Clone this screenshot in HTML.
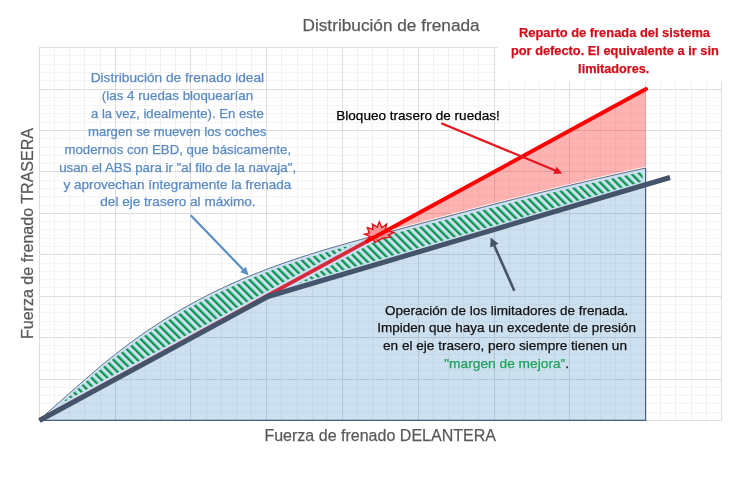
<!DOCTYPE html><html><head><meta charset="utf-8"><style>html,body{margin:0;padding:0;background:#fff;}svg{display:block;will-change:transform;}text{font-family:"Liberation Sans",sans-serif;}</style></head><body>
<svg width="731" height="484" viewBox="0 0 731 484">
<defs>
<pattern id="hatch" patternUnits="userSpaceOnUse" width="5.657" height="5.657" patternTransform="rotate(-45)"><rect x="0" y="0" width="2.35" height="5.657" fill="#0c954c"/></pattern>
</defs>
<rect width="731" height="484" fill="#fff"/>
<line x1="54.50" y1="47.5" x2="54.50" y2="420.3" stroke="#f1f1f1" stroke-width="1"/>
<line x1="69.50" y1="47.5" x2="69.50" y2="420.3" stroke="#f1f1f1" stroke-width="1"/>
<line x1="84.50" y1="47.5" x2="84.50" y2="420.3" stroke="#f1f1f1" stroke-width="1"/>
<line x1="100.50" y1="47.5" x2="100.50" y2="420.3" stroke="#f1f1f1" stroke-width="1"/>
<line x1="130.50" y1="47.5" x2="130.50" y2="420.3" stroke="#f1f1f1" stroke-width="1"/>
<line x1="145.50" y1="47.5" x2="145.50" y2="420.3" stroke="#f1f1f1" stroke-width="1"/>
<line x1="160.50" y1="47.5" x2="160.50" y2="420.3" stroke="#f1f1f1" stroke-width="1"/>
<line x1="175.50" y1="47.5" x2="175.50" y2="420.3" stroke="#f1f1f1" stroke-width="1"/>
<line x1="206.50" y1="47.5" x2="206.50" y2="420.3" stroke="#f1f1f1" stroke-width="1"/>
<line x1="221.50" y1="47.5" x2="221.50" y2="420.3" stroke="#f1f1f1" stroke-width="1"/>
<line x1="236.50" y1="47.5" x2="236.50" y2="420.3" stroke="#f1f1f1" stroke-width="1"/>
<line x1="251.50" y1="47.5" x2="251.50" y2="420.3" stroke="#f1f1f1" stroke-width="1"/>
<line x1="281.50" y1="47.5" x2="281.50" y2="420.3" stroke="#f1f1f1" stroke-width="1"/>
<line x1="297.50" y1="47.5" x2="297.50" y2="420.3" stroke="#f1f1f1" stroke-width="1"/>
<line x1="312.50" y1="47.5" x2="312.50" y2="420.3" stroke="#f1f1f1" stroke-width="1"/>
<line x1="327.50" y1="47.5" x2="327.50" y2="420.3" stroke="#f1f1f1" stroke-width="1"/>
<line x1="357.50" y1="47.5" x2="357.50" y2="420.3" stroke="#f1f1f1" stroke-width="1"/>
<line x1="372.50" y1="47.5" x2="372.50" y2="420.3" stroke="#f1f1f1" stroke-width="1"/>
<line x1="387.50" y1="47.5" x2="387.50" y2="420.3" stroke="#f1f1f1" stroke-width="1"/>
<line x1="403.50" y1="47.5" x2="403.50" y2="420.3" stroke="#f1f1f1" stroke-width="1"/>
<line x1="433.50" y1="47.5" x2="433.50" y2="420.3" stroke="#f1f1f1" stroke-width="1"/>
<line x1="448.50" y1="47.5" x2="448.50" y2="420.3" stroke="#f1f1f1" stroke-width="1"/>
<line x1="463.50" y1="47.5" x2="463.50" y2="420.3" stroke="#f1f1f1" stroke-width="1"/>
<line x1="478.50" y1="47.5" x2="478.50" y2="420.3" stroke="#f1f1f1" stroke-width="1"/>
<line x1="509.50" y1="47.5" x2="509.50" y2="420.3" stroke="#f1f1f1" stroke-width="1"/>
<line x1="524.50" y1="47.5" x2="524.50" y2="420.3" stroke="#f1f1f1" stroke-width="1"/>
<line x1="539.50" y1="47.5" x2="539.50" y2="420.3" stroke="#f1f1f1" stroke-width="1"/>
<line x1="554.50" y1="47.5" x2="554.50" y2="420.3" stroke="#f1f1f1" stroke-width="1"/>
<line x1="584.50" y1="47.5" x2="584.50" y2="420.3" stroke="#f1f1f1" stroke-width="1"/>
<line x1="600.50" y1="47.5" x2="600.50" y2="420.3" stroke="#f1f1f1" stroke-width="1"/>
<line x1="615.50" y1="47.5" x2="615.50" y2="420.3" stroke="#f1f1f1" stroke-width="1"/>
<line x1="630.50" y1="47.5" x2="630.50" y2="420.3" stroke="#f1f1f1" stroke-width="1"/>
<line x1="660.50" y1="47.5" x2="660.50" y2="420.3" stroke="#f1f1f1" stroke-width="1"/>
<line x1="675.50" y1="47.5" x2="675.50" y2="420.3" stroke="#f1f1f1" stroke-width="1"/>
<line x1="691.50" y1="47.5" x2="691.50" y2="420.3" stroke="#f1f1f1" stroke-width="1"/>
<line x1="706.50" y1="47.5" x2="706.50" y2="420.3" stroke="#f1f1f1" stroke-width="1"/>
<line x1="39.0" y1="55.50" x2="721.0" y2="55.50" stroke="#f5f5f5" stroke-width="1"/>
<line x1="39.0" y1="64.50" x2="721.0" y2="64.50" stroke="#f5f5f5" stroke-width="1"/>
<line x1="39.0" y1="72.50" x2="721.0" y2="72.50" stroke="#f5f5f5" stroke-width="1"/>
<line x1="39.0" y1="80.50" x2="721.0" y2="80.50" stroke="#f5f5f5" stroke-width="1"/>
<line x1="39.0" y1="97.50" x2="721.0" y2="97.50" stroke="#f5f5f5" stroke-width="1"/>
<line x1="39.0" y1="105.50" x2="721.0" y2="105.50" stroke="#f5f5f5" stroke-width="1"/>
<line x1="39.0" y1="113.50" x2="721.0" y2="113.50" stroke="#f5f5f5" stroke-width="1"/>
<line x1="39.0" y1="122.50" x2="721.0" y2="122.50" stroke="#f5f5f5" stroke-width="1"/>
<line x1="39.0" y1="138.50" x2="721.0" y2="138.50" stroke="#f5f5f5" stroke-width="1"/>
<line x1="39.0" y1="147.50" x2="721.0" y2="147.50" stroke="#f5f5f5" stroke-width="1"/>
<line x1="39.0" y1="155.50" x2="721.0" y2="155.50" stroke="#f5f5f5" stroke-width="1"/>
<line x1="39.0" y1="163.50" x2="721.0" y2="163.50" stroke="#f5f5f5" stroke-width="1"/>
<line x1="39.0" y1="180.50" x2="721.0" y2="180.50" stroke="#f5f5f5" stroke-width="1"/>
<line x1="39.0" y1="188.50" x2="721.0" y2="188.50" stroke="#f5f5f5" stroke-width="1"/>
<line x1="39.0" y1="196.50" x2="721.0" y2="196.50" stroke="#f5f5f5" stroke-width="1"/>
<line x1="39.0" y1="205.50" x2="721.0" y2="205.50" stroke="#f5f5f5" stroke-width="1"/>
<line x1="39.0" y1="221.50" x2="721.0" y2="221.50" stroke="#f5f5f5" stroke-width="1"/>
<line x1="39.0" y1="229.50" x2="721.0" y2="229.50" stroke="#f5f5f5" stroke-width="1"/>
<line x1="39.0" y1="238.50" x2="721.0" y2="238.50" stroke="#f5f5f5" stroke-width="1"/>
<line x1="39.0" y1="246.50" x2="721.0" y2="246.50" stroke="#f5f5f5" stroke-width="1"/>
<line x1="39.0" y1="263.50" x2="721.0" y2="263.50" stroke="#f5f5f5" stroke-width="1"/>
<line x1="39.0" y1="271.50" x2="721.0" y2="271.50" stroke="#f5f5f5" stroke-width="1"/>
<line x1="39.0" y1="279.50" x2="721.0" y2="279.50" stroke="#f5f5f5" stroke-width="1"/>
<line x1="39.0" y1="287.50" x2="721.0" y2="287.50" stroke="#f5f5f5" stroke-width="1"/>
<line x1="39.0" y1="304.50" x2="721.0" y2="304.50" stroke="#f5f5f5" stroke-width="1"/>
<line x1="39.0" y1="312.50" x2="721.0" y2="312.50" stroke="#f5f5f5" stroke-width="1"/>
<line x1="39.0" y1="321.50" x2="721.0" y2="321.50" stroke="#f5f5f5" stroke-width="1"/>
<line x1="39.0" y1="329.50" x2="721.0" y2="329.50" stroke="#f5f5f5" stroke-width="1"/>
<line x1="39.0" y1="345.50" x2="721.0" y2="345.50" stroke="#f5f5f5" stroke-width="1"/>
<line x1="39.0" y1="354.50" x2="721.0" y2="354.50" stroke="#f5f5f5" stroke-width="1"/>
<line x1="39.0" y1="362.50" x2="721.0" y2="362.50" stroke="#f5f5f5" stroke-width="1"/>
<line x1="39.0" y1="370.50" x2="721.0" y2="370.50" stroke="#f5f5f5" stroke-width="1"/>
<line x1="39.0" y1="387.50" x2="721.0" y2="387.50" stroke="#f5f5f5" stroke-width="1"/>
<line x1="39.0" y1="395.50" x2="721.0" y2="395.50" stroke="#f5f5f5" stroke-width="1"/>
<line x1="39.0" y1="403.50" x2="721.0" y2="403.50" stroke="#f5f5f5" stroke-width="1"/>
<line x1="39.0" y1="412.50" x2="721.0" y2="412.50" stroke="#f5f5f5" stroke-width="1"/>
<line x1="39.50" y1="47.5" x2="39.50" y2="420.3" stroke="#dddddd" stroke-width="1"/>
<line x1="115.50" y1="47.5" x2="115.50" y2="420.3" stroke="#dddddd" stroke-width="1"/>
<line x1="190.50" y1="47.5" x2="190.50" y2="420.3" stroke="#dddddd" stroke-width="1"/>
<line x1="266.50" y1="47.5" x2="266.50" y2="420.3" stroke="#dddddd" stroke-width="1"/>
<line x1="342.50" y1="47.5" x2="342.50" y2="420.3" stroke="#dddddd" stroke-width="1"/>
<line x1="418.50" y1="47.5" x2="418.50" y2="420.3" stroke="#dddddd" stroke-width="1"/>
<line x1="494.50" y1="47.5" x2="494.50" y2="420.3" stroke="#dddddd" stroke-width="1"/>
<line x1="569.50" y1="47.5" x2="569.50" y2="420.3" stroke="#dddddd" stroke-width="1"/>
<line x1="645.50" y1="47.5" x2="645.50" y2="420.3" stroke="#dddddd" stroke-width="1"/>
<line x1="721.50" y1="47.5" x2="721.50" y2="420.3" stroke="#dddddd" stroke-width="1"/>
<line x1="39.0" y1="47.50" x2="721.0" y2="47.50" stroke="#dddddd" stroke-width="1"/>
<line x1="39.0" y1="89.50" x2="721.0" y2="89.50" stroke="#dddddd" stroke-width="1"/>
<line x1="39.0" y1="130.50" x2="721.0" y2="130.50" stroke="#dddddd" stroke-width="1"/>
<line x1="39.0" y1="171.50" x2="721.0" y2="171.50" stroke="#dddddd" stroke-width="1"/>
<line x1="39.0" y1="213.50" x2="721.0" y2="213.50" stroke="#dddddd" stroke-width="1"/>
<line x1="39.0" y1="254.50" x2="721.0" y2="254.50" stroke="#dddddd" stroke-width="1"/>
<line x1="39.0" y1="296.50" x2="721.0" y2="296.50" stroke="#dddddd" stroke-width="1"/>
<line x1="39.0" y1="337.50" x2="721.0" y2="337.50" stroke="#dddddd" stroke-width="1"/>
<line x1="39.0" y1="379.50" x2="721.0" y2="379.50" stroke="#dddddd" stroke-width="1"/>
<line x1="39.0" y1="420.50" x2="721.0" y2="420.50" stroke="#dddddd" stroke-width="1"/>
<line x1="39.5" y1="420.0" x2="367.0" y2="241.3" stroke="#d42a3c" stroke-width="3.2"/>
<polygon points="39.5,420.3 44.6,415.2 49.7,410.7 54.8,406.2 59.9,401.7 65.0,397.2 70.1,392.7 75.2,388.2 80.2,383.7 85.3,379.3 90.4,374.9 95.5,370.5 100.6,366.2 105.7,362.0 110.8,357.9 115.9,353.8 121.0,349.9 126.1,346.0 131.2,342.2 136.3,338.5 141.4,334.9 146.5,331.4 151.6,328.0 156.6,324.6 161.7,321.3 166.8,318.1 171.9,315.0 177.0,312.0 182.1,309.0 187.2,306.1 192.3,303.3 197.4,300.5 202.5,297.9 207.6,295.2 212.7,292.7 217.8,290.2 222.9,287.8 228.0,285.4 233.0,283.1 238.1,280.9 243.2,278.7 248.3,276.6 253.4,274.5 258.5,272.5 263.6,270.5 268.7,268.5 273.8,266.6 278.9,264.8 284.0,263.0 289.1,261.2 294.2,259.5 299.3,257.8 304.4,256.1 309.4,254.5 314.5,252.9 319.6,251.3 324.7,249.8 329.8,248.3 334.9,246.8 340.0,245.3 345.1,243.9 350.2,242.4 355.3,241.0 360.4,239.6 365.5,238.2 370.6,236.9 375.7,235.5 380.7,234.1 385.8,232.8 390.9,231.4 396.0,230.1 401.1,228.7 406.2,227.4 411.3,226.0 416.4,224.7 421.5,223.3 426.6,222.0 431.7,220.6 436.8,219.3 441.9,217.9 447.0,216.6 452.1,215.2 457.1,213.9 462.2,212.6 467.3,211.2 472.4,209.9 477.5,208.6 482.6,207.3 487.7,206.0 492.8,204.6 497.9,203.3 503.0,202.0 508.1,200.7 513.2,199.4 518.3,198.1 523.4,196.9 528.5,195.6 533.5,194.3 538.6,193.0 543.7,191.8 548.8,190.5 553.9,189.3 559.0,188.0 564.1,186.8 569.2,185.6 574.3,184.3 579.4,183.1 584.5,181.9 589.6,180.7 594.7,179.5 599.8,178.3 604.9,177.2 609.9,176.0 615.0,174.8 620.1,173.7 625.2,172.6 630.3,171.4 635.4,170.3 640.5,169.2 645.6,168.1 645.6,420.3 39.5,420.3" fill="rgb(40,120,190)" fill-opacity="0.23"/>
<line x1="39.5" y1="420.0" x2="367.0" y2="241.3" stroke="#d42a3c" stroke-width="3.2"/>
<clipPath id="hclip"><polygon points="40.0,419.2 43.8,415.9 47.6,412.5 51.4,409.2 55.2,405.8 59.0,402.5 62.9,399.1 66.7,395.7 70.5,392.3 74.3,389.0 78.1,385.6 81.9,382.3 85.7,379.0 89.5,375.7 93.3,372.4 97.1,369.2 100.9,366.0 104.7,362.8 108.6,359.7 112.4,356.6 116.2,353.6 120.0,350.7 123.8,347.7 127.6,344.9 131.4,342.1 135.2,339.3 139.0,336.6 142.8,333.9 146.6,331.3 150.5,328.7 154.3,326.2 158.1,323.7 161.9,321.3 165.7,318.9 169.5,316.5 173.3,314.2 177.1,311.9 180.9,309.7 184.7,307.5 188.5,305.4 192.4,303.3 196.2,301.2 200.0,299.2 203.8,297.2 207.6,295.2 211.4,293.3 215.2,291.5 219.0,289.6 222.8,287.8 226.6,286.0 230.4,284.3 234.2,282.6 238.1,280.9 241.9,279.3 245.7,277.7 249.5,276.1 253.3,274.5 257.1,273.0 260.9,271.5 264.7,270.0 268.5,268.6 272.3,267.2 276.1,265.8 280.0,264.4 283.8,263.1 287.6,261.7 291.4,260.4 295.2,259.1 299.0,257.9 302.8,256.6 306.6,255.4 310.4,254.2 314.2,253.0 318.0,251.8 321.9,250.7 325.7,249.5 329.5,248.4 333.3,247.3 337.1,246.2 340.9,245.1 344.7,244.0 348.5,242.9 352.3,241.8 356.1,240.8 359.9,239.7 363.7,238.7 367.6,237.7 371.4,236.6 375.2,235.6 379.0,234.6 382.8,233.6 386.6,232.6 390.4,231.5 394.2,230.5 398.0,229.5 401.8,228.5 405.6,227.5 409.5,226.5 413.3,225.5 417.1,224.5 420.9,223.5 424.7,222.5 428.5,221.4 432.3,220.4 436.1,219.4 439.9,218.4 443.7,217.4 447.5,216.4 451.4,215.4 455.2,214.4 459.0,213.4 462.8,212.4 466.6,211.4 470.4,210.4 474.2,209.5 478.0,208.5 481.8,207.5 485.6,206.5 489.4,205.5 493.2,204.5 497.1,203.6 500.9,202.6 504.7,201.6 508.5,200.6 512.3,199.7 516.1,198.7 519.9,197.7 523.7,196.8 527.5,195.8 531.3,194.9 535.1,193.9 539.0,193.0 542.8,192.0 546.6,191.1 550.4,190.1 554.2,189.2 558.0,188.3 561.8,187.4 565.6,186.4 569.4,185.5 573.2,184.6 577.0,183.7 580.9,182.8 584.7,181.9 588.5,181.0 592.3,180.1 596.1,179.2 599.9,178.3 603.7,177.4 607.5,176.6 611.3,175.7 615.1,174.8 618.9,174.0 622.7,173.1 626.6,172.3 630.4,171.4 634.2,170.6 638.0,169.7 641.8,168.9 645.6,168.1 645.6,184.7 641.8,185.9 638.0,187.0 634.2,188.1 630.4,189.2 626.6,190.4 622.7,191.5 618.9,192.6 615.1,193.7 611.3,194.9 607.5,196.0 603.7,197.1 599.9,198.3 596.1,199.4 592.3,200.5 588.5,201.6 584.7,202.8 580.9,203.9 577.0,205.0 573.2,206.1 569.4,207.3 565.6,208.4 561.8,209.5 558.0,210.7 554.2,211.8 550.4,212.9 546.6,214.0 542.8,215.2 539.0,216.3 535.1,217.4 531.3,218.5 527.5,219.7 523.7,220.8 519.9,221.9 516.1,223.1 512.3,224.2 508.5,225.3 504.7,226.4 500.9,227.6 497.1,228.7 493.2,229.8 489.4,230.9 485.6,232.1 481.8,233.2 478.0,234.3 474.2,235.5 470.4,236.6 466.6,237.7 462.8,238.8 459.0,240.0 455.2,241.1 451.4,242.2 447.5,243.4 443.7,244.5 439.9,245.6 436.1,246.7 432.3,247.9 428.5,249.0 424.7,250.1 420.9,251.2 417.1,252.4 413.3,253.5 409.5,254.6 405.6,255.8 401.8,256.9 398.0,258.0 394.2,259.1 390.4,260.3 386.6,261.4 382.8,262.5 379.0,263.6 375.2,264.8 371.4,265.9 367.6,267.0 363.7,268.2 359.9,269.3 356.1,270.4 352.3,271.5 348.5,272.7 344.7,273.8 340.9,274.9 337.1,276.0 333.3,277.2 329.5,278.3 325.7,279.4 321.9,280.6 318.0,281.7 314.2,282.8 310.4,283.9 306.6,285.1 302.8,286.2 299.0,287.3 295.2,288.5 291.4,289.6 287.6,290.7 283.8,291.8 280.0,293.0 276.1,294.1 272.3,295.2 268.5,296.3 264.7,298.3 260.9,300.3 257.1,302.4 253.3,304.5 249.5,306.5 245.7,308.6 241.9,310.7 238.1,312.7 234.2,314.8 230.4,316.9 226.6,318.9 222.8,321.0 219.0,323.1 215.2,325.2 211.4,327.2 207.6,329.3 203.8,331.4 200.0,333.4 196.2,335.5 192.4,337.6 188.5,339.6 184.7,341.7 180.9,343.8 177.1,345.8 173.3,347.9 169.5,350.0 165.7,352.0 161.9,354.1 158.1,356.2 154.3,358.2 150.5,360.3 146.6,362.4 142.8,364.4 139.0,366.5 135.2,368.6 131.4,370.6 127.6,372.7 123.8,374.8 120.0,376.8 116.2,378.9 112.4,381.0 108.6,383.0 104.7,385.1 100.9,387.2 97.1,389.2 93.3,391.3 89.5,393.4 85.7,395.4 81.9,397.5 78.1,399.6 74.3,401.6 70.5,403.7 66.7,405.8 62.9,407.8 59.0,409.9 55.2,412.0 51.4,414.0 47.6,416.1 43.8,418.2 40.0,420.2"/></clipPath>
<polygon points="40.0,419.2 43.8,415.9 47.6,412.5 51.4,409.2 55.2,405.8 59.0,402.5 62.9,399.1 66.7,395.7 70.5,392.3 74.3,389.0 78.1,385.6 81.9,382.3 85.7,379.0 89.5,375.7 93.3,372.4 97.1,369.2 100.9,366.0 104.7,362.8 108.6,359.7 112.4,356.6 116.2,353.6 120.0,350.7 123.8,347.7 127.6,344.9 131.4,342.1 135.2,339.3 139.0,336.6 142.8,333.9 146.6,331.3 150.5,328.7 154.3,326.2 158.1,323.7 161.9,321.3 165.7,318.9 169.5,316.5 173.3,314.2 177.1,311.9 180.9,309.7 184.7,307.5 188.5,305.4 192.4,303.3 196.2,301.2 200.0,299.2 203.8,297.2 207.6,295.2 211.4,293.3 215.2,291.5 219.0,289.6 222.8,287.8 226.6,286.0 230.4,284.3 234.2,282.6 238.1,280.9 241.9,279.3 245.7,277.7 249.5,276.1 253.3,274.5 257.1,273.0 260.9,271.5 264.7,270.0 268.5,268.6 272.3,267.2 276.1,265.8 280.0,264.4 283.8,263.1 287.6,261.7 291.4,260.4 295.2,259.1 299.0,257.9 302.8,256.6 306.6,255.4 310.4,254.2 314.2,253.0 318.0,251.8 321.9,250.7 325.7,249.5 329.5,248.4 333.3,247.3 337.1,246.2 340.9,245.1 344.7,244.0 348.5,242.9 352.3,241.8 356.1,240.8 359.9,239.7 363.7,238.7 367.6,237.7 371.4,236.6 375.2,235.6 379.0,234.6 382.8,233.6 386.6,232.6 390.4,231.5 394.2,230.5 398.0,229.5 401.8,228.5 405.6,227.5 409.5,226.5 413.3,225.5 417.1,224.5 420.9,223.5 424.7,222.5 428.5,221.4 432.3,220.4 436.1,219.4 439.9,218.4 443.7,217.4 447.5,216.4 451.4,215.4 455.2,214.4 459.0,213.4 462.8,212.4 466.6,211.4 470.4,210.4 474.2,209.5 478.0,208.5 481.8,207.5 485.6,206.5 489.4,205.5 493.2,204.5 497.1,203.6 500.9,202.6 504.7,201.6 508.5,200.6 512.3,199.7 516.1,198.7 519.9,197.7 523.7,196.8 527.5,195.8 531.3,194.9 535.1,193.9 539.0,193.0 542.8,192.0 546.6,191.1 550.4,190.1 554.2,189.2 558.0,188.3 561.8,187.4 565.6,186.4 569.4,185.5 573.2,184.6 577.0,183.7 580.9,182.8 584.7,181.9 588.5,181.0 592.3,180.1 596.1,179.2 599.9,178.3 603.7,177.4 607.5,176.6 611.3,175.7 615.1,174.8 618.9,174.0 622.7,173.1 626.6,172.3 630.4,171.4 634.2,170.6 638.0,169.7 641.8,168.9 645.6,168.1 645.6,184.7 641.8,185.9 638.0,187.0 634.2,188.1 630.4,189.2 626.6,190.4 622.7,191.5 618.9,192.6 615.1,193.7 611.3,194.9 607.5,196.0 603.7,197.1 599.9,198.3 596.1,199.4 592.3,200.5 588.5,201.6 584.7,202.8 580.9,203.9 577.0,205.0 573.2,206.1 569.4,207.3 565.6,208.4 561.8,209.5 558.0,210.7 554.2,211.8 550.4,212.9 546.6,214.0 542.8,215.2 539.0,216.3 535.1,217.4 531.3,218.5 527.5,219.7 523.7,220.8 519.9,221.9 516.1,223.1 512.3,224.2 508.5,225.3 504.7,226.4 500.9,227.6 497.1,228.7 493.2,229.8 489.4,230.9 485.6,232.1 481.8,233.2 478.0,234.3 474.2,235.5 470.4,236.6 466.6,237.7 462.8,238.8 459.0,240.0 455.2,241.1 451.4,242.2 447.5,243.4 443.7,244.5 439.9,245.6 436.1,246.7 432.3,247.9 428.5,249.0 424.7,250.1 420.9,251.2 417.1,252.4 413.3,253.5 409.5,254.6 405.6,255.8 401.8,256.9 398.0,258.0 394.2,259.1 390.4,260.3 386.6,261.4 382.8,262.5 379.0,263.6 375.2,264.8 371.4,265.9 367.6,267.0 363.7,268.2 359.9,269.3 356.1,270.4 352.3,271.5 348.5,272.7 344.7,273.8 340.9,274.9 337.1,276.0 333.3,277.2 329.5,278.3 325.7,279.4 321.9,280.6 318.0,281.7 314.2,282.8 310.4,283.9 306.6,285.1 302.8,286.2 299.0,287.3 295.2,288.5 291.4,289.6 287.6,290.7 283.8,291.8 280.0,293.0 276.1,294.1 272.3,295.2 268.5,296.3 264.7,298.3 260.9,300.3 257.1,302.4 253.3,304.5 249.5,306.5 245.7,308.6 241.9,310.7 238.1,312.7 234.2,314.8 230.4,316.9 226.6,318.9 222.8,321.0 219.0,323.1 215.2,325.2 211.4,327.2 207.6,329.3 203.8,331.4 200.0,333.4 196.2,335.5 192.4,337.6 188.5,339.6 184.7,341.7 180.9,343.8 177.1,345.8 173.3,347.9 169.5,350.0 165.7,352.0 161.9,354.1 158.1,356.2 154.3,358.2 150.5,360.3 146.6,362.4 142.8,364.4 139.0,366.5 135.2,368.6 131.4,370.6 127.6,372.7 123.8,374.8 120.0,376.8 116.2,378.9 112.4,381.0 108.6,383.0 104.7,385.1 100.9,387.2 97.1,389.2 93.3,391.3 89.5,393.4 85.7,395.4 81.9,397.5 78.1,399.6 74.3,401.6 70.5,403.7 66.7,405.8 62.9,407.8 59.0,409.9 55.2,412.0 51.4,414.0 47.6,416.1 43.8,418.2 40.0,420.2" fill="rgb(203,224,241)"/>
<polygon points="44.0,418.7 47.8,415.4 51.5,412.1 55.3,408.8 59.1,405.5 62.8,402.1 66.6,398.8 70.4,395.5 74.1,392.1 77.9,388.8 81.6,385.5 85.4,382.2 89.2,379.0 92.9,375.7 96.7,372.5 100.5,369.4 104.2,366.2 108.0,363.1 111.8,360.1 115.5,357.1 119.3,354.2 123.1,351.3 126.8,348.5 130.6,345.7 134.4,342.9 138.1,340.2 141.9,337.6 145.6,335.0 149.4,332.4 153.2,329.9 156.9,327.4 160.7,325.0 164.5,322.6 168.2,320.3 172.0,318.0 175.8,315.7 179.5,313.5 183.3,311.3 187.1,309.2 190.8,307.1 194.6,305.0 198.4,303.0 202.1,301.0 205.9,299.1 209.7,297.2 213.4,295.3 217.2,293.5 220.9,291.7 224.7,289.9 228.5,288.2 232.2,286.5 236.0,284.8 239.8,283.2 243.5,281.6 247.3,280.0 251.1,278.4 254.8,276.9 258.6,275.4 262.4,274.0 266.1,272.5 269.9,271.1 273.7,269.7 277.4,268.3 281.2,267.0 284.9,265.6 288.7,264.3 292.5,263.1 296.2,261.8 300.0,260.6 303.8,259.3 307.5,258.1 311.3,256.9 315.1,255.8 318.8,254.6 322.6,253.4 326.4,252.3 330.1,251.2 333.9,250.1 337.7,249.0 341.4,247.9 345.2,246.8 348.9,245.8 352.7,244.7 356.5,243.7 360.2,242.7 364.0,241.6 367.8,240.6 371.5,239.6 375.3,238.6 379.1,237.6 382.8,236.6 386.6,235.6 390.4,234.6 394.1,233.6 397.9,232.6 401.7,231.6 405.4,230.6 409.2,229.6 412.9,228.6 416.7,227.6 420.5,226.6 424.2,225.6 428.0,224.6 431.8,223.6 435.5,222.6 439.3,221.6 443.1,220.6 446.8,219.6 450.6,218.6 454.4,217.6 458.1,216.7 461.9,215.7 465.7,214.7 469.4,213.7 473.2,212.7 476.9,211.7 480.7,210.8 484.5,209.8 488.2,208.8 492.0,207.8 495.8,206.9 499.5,205.9 503.3,205.0 507.1,204.0 510.8,203.0 514.6,202.1 518.4,201.1 522.1,200.2 525.9,199.2 529.7,198.3 533.4,197.3 537.2,196.4 541.0,195.5 544.7,194.5 548.5,193.6 552.2,192.7 556.0,191.8 559.8,190.8 563.5,189.9 567.3,189.0 571.1,188.1 574.8,187.2 578.6,186.3 582.4,185.4 586.1,184.5 589.9,183.6 593.7,182.8 597.4,181.9 601.2,181.0 605.0,180.1 608.7,179.3 612.5,178.4 616.2,177.6 620.0,176.7 623.8,175.9 627.5,175.0 631.3,174.2 635.1,173.4 638.8,172.6 642.6,171.7 642.6,181.5 638.8,182.6 635.1,183.7 631.3,184.9 627.5,186.0 623.8,187.1 620.0,188.2 616.2,189.3 612.5,190.4 608.7,191.5 605.0,192.7 601.2,193.8 597.4,194.9 593.7,196.0 589.9,197.1 586.1,198.2 582.4,199.3 578.6,200.5 574.8,201.6 571.1,202.7 567.3,203.8 563.5,204.9 559.8,206.0 556.0,207.1 552.2,208.3 548.5,209.4 544.7,210.5 541.0,211.6 537.2,212.7 533.4,213.8 529.7,214.9 525.9,216.1 522.1,217.2 518.4,218.3 514.6,219.4 510.8,220.5 507.1,221.6 503.3,222.7 499.5,223.9 495.8,225.0 492.0,226.1 488.2,227.2 484.5,228.3 480.7,229.4 476.9,230.5 473.2,231.7 469.4,232.8 465.7,233.9 461.9,235.0 458.1,236.1 454.4,237.2 450.6,238.3 446.8,239.5 443.1,240.6 439.3,241.7 435.5,242.8 431.8,243.9 428.0,245.0 424.2,246.1 420.5,247.3 416.7,248.4 412.9,249.5 409.2,250.6 405.4,251.7 401.7,252.8 397.9,254.0 394.1,255.1 390.4,256.2 386.6,257.3 382.8,258.4 379.1,259.5 375.3,260.6 371.5,261.8 367.8,262.9 364.0,264.0 360.2,265.1 356.5,266.2 352.7,267.3 348.9,268.4 345.2,269.6 341.4,270.7 337.7,271.8 333.9,272.9 330.1,274.0 326.4,275.1 322.6,276.2 318.8,277.4 315.1,278.5 311.3,279.6 307.5,280.7 303.8,281.8 300.0,282.9 296.2,284.0 292.5,285.2 288.7,286.3 284.9,287.4 281.2,288.5 277.4,289.6 273.7,290.7 269.9,291.8 266.1,293.4 262.4,295.5 258.6,297.5 254.8,299.5 251.1,301.6 247.3,303.6 243.5,305.7 239.8,307.7 236.0,309.8 232.2,311.8 228.5,313.8 224.7,315.9 220.9,317.9 217.2,320.0 213.4,322.0 209.7,324.1 205.9,326.1 202.1,328.2 198.4,330.2 194.6,332.2 190.8,334.3 187.1,336.3 183.3,338.4 179.5,340.4 175.8,342.5 172.0,344.5 168.2,346.5 164.5,348.6 160.7,350.6 156.9,352.7 153.2,354.7 149.4,356.8 145.6,358.8 141.9,360.8 138.1,362.9 134.4,364.9 130.6,367.0 126.8,369.0 123.1,371.1 119.3,373.1 115.5,375.1 111.8,377.2 108.0,379.2 104.2,381.3 100.5,383.3 96.7,385.4 92.9,387.4 89.2,389.4 85.4,391.5 81.6,393.5 77.9,395.6 74.1,397.6 70.4,399.7 66.6,401.7 62.8,403.7 59.1,405.8 55.3,407.8 51.5,409.9 47.8,411.9 44.0,414.0" fill="url(#hatch)"/>
<g clip-path="url(#hclip)"><line x1="39.5" y1="420.0" x2="373.0" y2="238.0" stroke="rgb(203,224,241)" stroke-width="8.2"/></g>
<line x1="39.5" y1="420.0" x2="367.0" y2="241.3" stroke="#d42a3c" stroke-width="3.8"/>
<polyline points="645.6,168.1 645.6,420.3 39.5,420.3" fill="none" stroke="#4a5d78" stroke-width="1.2"/>
<polygon points="367.0,241.3 376.6,236.0 386.2,230.8 395.9,225.5 405.5,220.3 415.1,215.0 424.7,209.8 434.3,204.5 444.0,199.3 453.6,194.0 463.2,188.8 472.8,183.5 482.4,178.3 492.1,173.0 501.7,167.8 511.3,162.5 520.9,157.3 530.6,152.0 540.2,146.8 549.8,141.5 559.4,136.3 569.0,131.0 578.7,125.8 588.3,120.5 597.9,115.3 607.5,110.0 617.1,104.8 626.8,99.5 636.4,94.3 646.0,89.0 646.0,168.0 646.0,168.0 641.3,169.0 636.5,170.1 631.8,171.1 627.1,172.1 622.4,173.2 617.6,174.3 612.9,175.3 608.2,176.4 603.4,177.5 598.7,178.6 594.0,179.7 589.3,180.8 584.5,181.9 579.8,183.0 575.1,184.2 570.3,185.3 565.6,186.4 560.9,187.6 556.2,188.7 551.4,189.9 546.7,191.0 542.0,192.2 537.2,193.4 532.5,194.6 527.8,195.8 523.1,196.9 518.3,198.1 513.6,199.3 508.9,200.5 504.1,201.7 499.4,202.9 494.7,204.2 489.9,205.4 485.2,206.6 480.5,207.8 475.8,209.1 471.0,210.3 466.3,211.5 461.6,212.7 456.8,214.0 452.1,215.2 447.4,216.5 442.7,217.7 437.9,219.0 433.2,220.2 428.5,221.5 423.7,222.7 419.0,224.0 414.3,225.2 409.6,226.5 404.8,227.7 400.1,229.0 395.4,230.2 390.6,231.5 385.9,232.7 381.2,234.0 376.5,235.3 371.7,236.5 367.0,237.8" fill="rgb(255,0,0)" fill-opacity="0.3"/>
<polyline points="39.5,419.3 44.6,414.2 49.7,409.7 54.8,405.2 59.9,400.7 65.0,396.2 70.1,391.7 75.2,387.2 80.2,382.7 85.3,378.3 90.4,373.9 95.5,369.5 100.6,365.2 105.7,361.0 110.8,356.9 115.9,352.8 121.0,348.9 126.1,345.0 131.2,341.2 136.3,337.5 141.4,333.9 146.5,330.4 151.6,327.0 156.6,323.6 161.7,320.3 166.8,317.1 171.9,314.0 177.0,311.0 182.1,308.0 187.2,305.1 192.3,302.3 197.4,299.5 202.5,296.9 207.6,294.2 212.7,291.7 217.8,289.2 222.9,286.8 228.0,284.4 233.0,282.1 238.1,279.9 243.2,277.7 248.3,275.6 253.4,273.5 258.5,271.5 263.6,269.5 268.7,267.5 273.8,265.6 278.9,263.8 284.0,262.0 289.1,260.2 294.2,258.5 299.3,256.8 304.4,255.1 309.4,253.5 314.5,251.9 319.6,250.3 324.7,248.8 329.8,247.3 334.9,245.8 340.0,244.3 345.1,242.9 350.2,241.4 355.3,240.0 360.4,238.6 365.5,237.2 370.6,235.9 375.7,234.5 380.7,233.1 385.8,231.8 390.9,230.4 396.0,229.1 401.1,227.7 406.2,226.4 411.3,225.0 416.4,223.7 421.5,222.3 426.6,221.0 431.7,219.6 436.8,218.3 441.9,216.9 447.0,215.6 452.1,214.2 457.1,212.9 462.2,211.6 467.3,210.2 472.4,208.9 477.5,207.6 482.6,206.3 487.7,205.0 492.8,203.6 497.9,202.3 503.0,201.0 508.1,199.7 513.2,198.4 518.3,197.1 523.4,195.9 528.5,194.6 533.5,193.3 538.6,192.0 543.7,190.8 548.8,189.5 553.9,188.3 559.0,187.0 564.1,185.8 569.2,184.6 574.3,183.3 579.4,182.1 584.5,180.9 589.6,179.7 594.7,178.5 599.8,177.3 604.9,176.2 609.9,175.0 615.0,173.8 620.1,172.7 625.2,171.6 630.3,170.4 635.4,169.3 640.5,168.2 645.6,167.1" fill="none" stroke="#ffffff" stroke-width="1"/>
<polyline points="39.5,420.3 44.6,415.2 49.7,410.7 54.8,406.2 59.9,401.7 65.0,397.2 70.1,392.7 75.2,388.2 80.2,383.7 85.3,379.3 90.4,374.9 95.5,370.5 100.6,366.2 105.7,362.0 110.8,357.9 115.9,353.8 121.0,349.9 126.1,346.0 131.2,342.2 136.3,338.5 141.4,334.9 146.5,331.4 151.6,328.0 156.6,324.6 161.7,321.3 166.8,318.1 171.9,315.0 177.0,312.0 182.1,309.0 187.2,306.1 192.3,303.3 197.4,300.5 202.5,297.9 207.6,295.2 212.7,292.7 217.8,290.2 222.9,287.8 228.0,285.4 233.0,283.1 238.1,280.9 243.2,278.7 248.3,276.6 253.4,274.5 258.5,272.5 263.6,270.5 268.7,268.5 273.8,266.6 278.9,264.8 284.0,263.0 289.1,261.2 294.2,259.5 299.3,257.8 304.4,256.1 309.4,254.5 314.5,252.9 319.6,251.3 324.7,249.8 329.8,248.3 334.9,246.8 340.0,245.3 345.1,243.9 350.2,242.4 355.3,241.0 360.4,239.6 365.5,238.2 370.6,236.9 375.7,235.5 380.7,234.1 385.8,232.8 390.9,231.4 396.0,230.1 401.1,228.7 406.2,227.4 411.3,226.0 416.4,224.7 421.5,223.3 426.6,222.0 431.7,220.6 436.8,219.3 441.9,217.9 447.0,216.6 452.1,215.2 457.1,213.9 462.2,212.6 467.3,211.2 472.4,209.9 477.5,208.6 482.6,207.3 487.7,206.0 492.8,204.6 497.9,203.3 503.0,202.0 508.1,200.7 513.2,199.4 518.3,198.1 523.4,196.9 528.5,195.6 533.5,194.3 538.6,193.0 543.7,191.8 548.8,190.5 553.9,189.3 559.0,188.0 564.1,186.8 569.2,185.6 574.3,184.3 579.4,183.1 584.5,181.9 589.6,180.7 594.7,179.5 599.8,178.3 604.9,177.2 609.9,176.0 615.0,174.8 620.1,173.7 625.2,172.6 630.3,171.4 635.4,170.3 640.5,169.2 645.6,168.1" fill="none" stroke="#52647e" stroke-width="0.9"/>
<polyline points="39.5,420.5 268,296.5 670,177.5" fill="none" stroke="#44546a" stroke-width="5.0" stroke-linejoin="round"/>
<polygon points="364.6,234.2 369.2,233.1 367.4,227.5 372.9,229.4 372.4,224.1 377.2,227.2 379.3,221.8 381.8,227.7 386.5,224.1 385.3,230.3 393.9,232.5 388.4,235.1 390.2,236.9 381.2,238.8 375.0,242.5 372.7,238.4 367.8,239.3 370.0,236.4" fill="rgb(255,110,110)" fill-opacity="0.72" stroke="#e0101c" stroke-width="1.4" stroke-linejoin="miter"/>
<line x1="367.0" y1="241.3" x2="646.0" y2="89.0" stroke="#ff0000" stroke-width="4" stroke-linecap="round"/>
<line x1="190.7" y1="215.2" x2="243.7" y2="270.2" stroke="#5b8fc7" stroke-width="2.2"/>
<polygon points="248.6,275.2 240.2,272.2 245.9,266.7" fill="#5b8fc7"/>
<line x1="441.3" y1="123.2" x2="555.9" y2="170.8" stroke="#e8141e" stroke-width="2.2"/>
<polygon points="562.4,173.5 553.5,174.1 556.5,166.7" fill="#e8141e"/>
<line x1="514.3" y1="290.7" x2="493.9" y2="244.7" stroke="#44546a" stroke-width="2.6"/>
<polygon points="490.7,237.4 498.5,243.8 490.2,247.5" fill="#44546a"/>
<rect x="497.5" y="0" width="234" height="81.5" fill="#fff"/>
<text x="302.48" y="30.9" font-size="16.8" font-weight="normal" fill="#595959" stroke="#595959" stroke-width="0.25" textLength="177.22" lengthAdjust="spacingAndGlyphs">Distribución de frenada</text>
<text x="519.04" y="37.0" font-size="13.5" font-weight="bold" fill="#cf0f1c" stroke="#cf0f1c" stroke-width="0.25" textLength="190.98" lengthAdjust="spacingAndGlyphs">Reparto de frenada del sistema</text>
<text x="510.96" y="54.8" font-size="13.5" font-weight="bold" fill="#cf0f1c" stroke="#cf0f1c" stroke-width="0.25" textLength="207.84" lengthAdjust="spacingAndGlyphs">por defecto. El equivalente a ir sin</text>
<text x="578.11" y="72.5" font-size="13.5" font-weight="bold" fill="#cf0f1c" stroke="#cf0f1c" stroke-width="0.25" textLength="71.26" lengthAdjust="spacingAndGlyphs">limitadores.</text>
<text x="90.68" y="81.9" font-size="13.5" font-weight="normal" fill="#5a8ac2" stroke="#5a8ac2" stroke-width="0.25" textLength="173.44" lengthAdjust="spacingAndGlyphs">Distribución de frenado ideal</text>
<text x="101.87" y="99.7" font-size="13.5" font-weight="normal" fill="#5a8ac2" stroke="#5a8ac2" stroke-width="0.25" textLength="151.19" lengthAdjust="spacingAndGlyphs">(las 4 ruedas bloquearían</text>
<text x="90.94" y="117.8" font-size="13.5" font-weight="normal" fill="#5a8ac2" stroke="#5a8ac2" stroke-width="0.25" textLength="172.84" lengthAdjust="spacingAndGlyphs">a la vez, idealmente). En este</text>
<text x="87.93" y="135.5" font-size="13.5" font-weight="normal" fill="#5a8ac2" stroke="#5a8ac2" stroke-width="0.25" textLength="178.45" lengthAdjust="spacingAndGlyphs">margen se mueven los coches</text>
<text x="64.42" y="153.9" font-size="13.5" font-weight="normal" fill="#5a8ac2" stroke="#5a8ac2" stroke-width="0.25" textLength="226.67" lengthAdjust="spacingAndGlyphs">modernos con EBD, que básicamente,</text>
<text x="59.14" y="171.5" font-size="13.5" font-weight="normal" fill="#5a8ac2" stroke="#5a8ac2" stroke-width="0.25" textLength="236.96" lengthAdjust="spacingAndGlyphs">usan el ABS para ir &quot;al filo de la navaja&quot;,</text>
<text x="63.47" y="188.7" font-size="13.5" font-weight="normal" fill="#5a8ac2" stroke="#5a8ac2" stroke-width="0.25" textLength="227.83" lengthAdjust="spacingAndGlyphs">y aprovechan íntegramente la frenada</text>
<text x="100.33" y="206.4" font-size="13.5" font-weight="normal" fill="#5a8ac2" stroke="#5a8ac2" stroke-width="0.25" textLength="155.31" lengthAdjust="spacingAndGlyphs">del eje trasero al máximo.</text>
<text x="336.29" y="119.6" font-size="13.5" font-weight="normal" fill="#000000" stroke="#000000" stroke-width="0.25" textLength="163.54" lengthAdjust="spacingAndGlyphs">Bloqueo trasero de ruedas!</text>
<text x="385.06" y="314.6" font-size="13.5" font-weight="normal" fill="#111111" stroke="#111111" stroke-width="0.25" textLength="243.17" lengthAdjust="spacingAndGlyphs">Operación de los limitadores de frenada.</text>
<text x="377.36" y="332.4" font-size="13.5" font-weight="normal" fill="#111111" stroke="#111111" stroke-width="0.25" textLength="258.72" lengthAdjust="spacingAndGlyphs">Impiden que haya un excedente de presión</text>
<text x="383.02" y="350.4" font-size="13.5" font-weight="normal" fill="#111111" stroke="#111111" stroke-width="0.25" textLength="243.96" lengthAdjust="spacingAndGlyphs">en el eje trasero, pero siempre tienen un</text>
<text x="444.22" y="368.1" font-size="13.5" font-weight="normal" fill="#20a25a" stroke="#20a25a" stroke-width="0.25" textLength="121.27" lengthAdjust="spacingAndGlyphs">&quot;margen de mejora&quot;</text>
<text x="565.2" y="368.1" font-size="13.5" fill="#111111" stroke="#111111" stroke-width="0.25">.</text>
<text x="264.38" y="440.9" font-size="16.8" font-weight="normal" fill="#595959" stroke="#595959" stroke-width="0.25" textLength="231.65" lengthAdjust="spacingAndGlyphs">Fuerza de frenado DELANTERA</text>
<g transform="translate(32.9,337.7) rotate(-90)"><text x="-1.32" y="0" font-size="16.8" fill="#595959" stroke="#595959" stroke-width="0.25" textLength="211.05" lengthAdjust="spacingAndGlyphs">Fuerza de frenado TRASERA</text></g>
</svg></body></html>
